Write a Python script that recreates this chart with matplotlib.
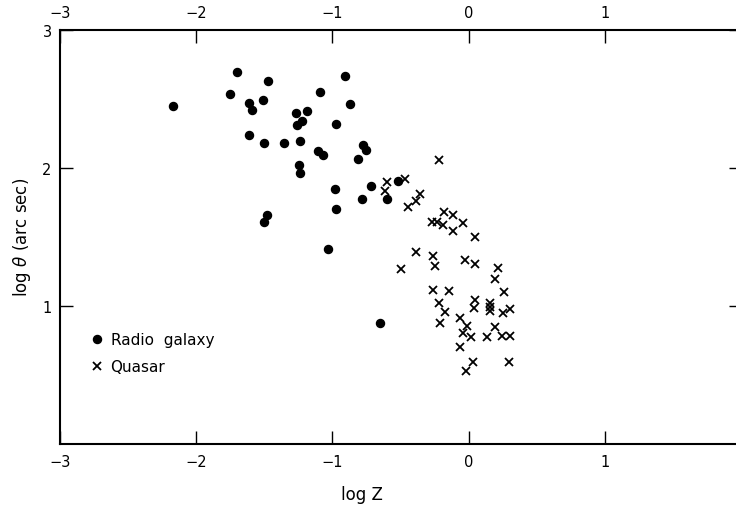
import matplotlib
matplotlib.use("Agg")
import matplotlib.pyplot as plt

# Radio galaxies: log Z, log theta
rg_logz = [-2.171, -1.701, -1.476, -1.750, -1.610, -1.591, -1.512, -1.610, -1.503, -1.358,
           -1.239, -1.270, -1.187, -1.224, -1.258, -1.092, -0.905, -0.872, -0.977, -1.109,
           -1.070, -0.773, -0.751, -0.815, -1.248, -1.241, -0.984, -0.974, -0.717, -0.783,
           -0.597, -0.521, -1.478, -1.505, -1.033, -0.653]
rg_logt = [2.447, 2.698, 2.630, 2.538, 2.471, 2.420, 2.491, 2.239, 2.179, 2.179,
           2.193, 2.401, 2.411, 2.343, 2.312, 2.553, 2.669, 2.466, 2.317, 2.125,
           2.094, 2.167, 2.133, 2.063, 2.024, 1.964, 1.846, 1.703, 1.870, 1.773,
           1.773, 1.908, 1.662, 1.611, 1.413, 0.877]

# Quasars: log Z, log theta
q_logz = [-0.220, -0.600, -0.617, -0.470, -0.358, -0.389, -0.443, -0.178, -0.112, -0.272,
          -0.230, -0.189, -0.044, -0.115, 0.049, -0.389, -0.497, -0.262, -0.247, -0.027,
          0.049, 0.213, 0.191, 0.257, -0.264, -0.147, -0.218, -0.171, -0.211, 0.046,
          0.042, 0.159, 0.154, 0.156, 0.252, 0.306, -0.064, -0.012, -0.039, 0.017,
          -0.064, 0.191, 0.137, 0.247, 0.301, 0.032, -0.020, 0.296]
q_logt = [2.060, 1.896, 1.836, 1.918, 1.812, 1.759, 1.717, 1.681, 1.659, 1.607,
          1.607, 1.587, 1.601, 1.541, 1.500, 1.389, 1.270, 1.360, 1.290, 1.331,
          1.307, 1.275, 1.193, 1.099, 1.118, 1.109, 1.020, 0.954, 0.879, 1.046,
          0.983, 1.022, 0.991, 0.964, 0.949, 0.978, 0.913, 0.857, 0.802, 0.773,
          0.705, 0.850, 0.778, 0.780, 0.780, 0.596, 0.527, 0.596]

x_ticks = [-3, -2, -1, 0, 1]
y_ticks = [1, 2, 3]

plt.rcParams['font.family'] = ['DejaVu Sans']

fig = plt.figure(figsize=(7.36, 5.06), dpi=100)
W, H = 736, 506
ax = fig.add_axes([60 / W, 1 - 445 / H, 681 / W, 414 / H])

ax.plot(rg_logz, rg_logt, linestyle='none', marker='o', markersize=5.8,
        color='black', label='Radio  galaxy')
ax.plot(q_logz, q_logt, linestyle='none', marker='x', markersize=5.8,
        markeredgewidth=1.3, color='black', label='Quasar')

ax.set_xlim(-3, 2)
ax.set_ylim(0, 3)
ax.set_xticks(x_ticks)
ax.set_yticks(y_ticks)
ax.set_xticklabels([f"{t:d}".replace('-', '\u2212') for t in x_ticks])
ax.set_yticklabels([str(t) for t in y_ticks])

for s in ax.spines.values():
    s.set_linewidth(1.5)

ax.tick_params(axis='x', which='both', direction='in', top=True, labeltop=True,
               bottom=True, labelbottom=True, length=9.5, width=1.0,
               labelsize=10.5, pad=7)
ax.tick_params(axis='y', which='both', direction='in', left=True, right=True,
               length=9, width=1.0, labelsize=10.5, pad=6)

ax.set_xlabel('log Z', fontsize=12)
ax.xaxis.set_label_coords(0.443, -0.10)
ax.set_ylabel(r'log $\theta$ (arc sec)', fontsize=12)
ax.yaxis.set_label_coords(-0.04, 0.502)

leg = ax.legend(loc='upper left', bbox_to_anchor=(0.045, 0.27), frameon=False,
                borderaxespad=0, borderpad=0, handlelength=0.8,
                handletextpad=0.5, labelspacing=0.8, fontsize=11)

fig.savefig('out.png', dpi=100)
